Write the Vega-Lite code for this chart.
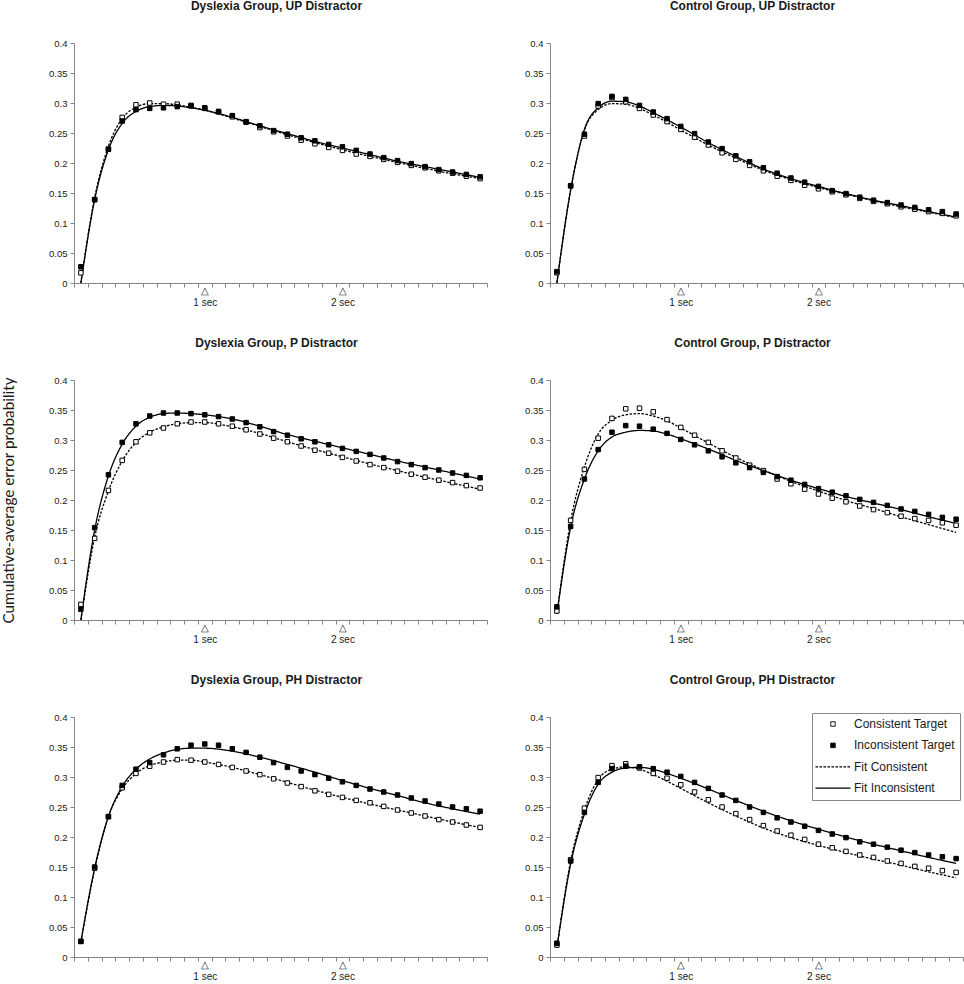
{
  "$schema": "https://vega.github.io/schema/vega-lite/v6.json",
  "padding": {"left": 1, "top": 0, "right": 0, "bottom": 0},
  "config": {
    "font": "Liberation Sans",
    "view": {"stroke": null},
    "axis": {"grid": false, "domainColor": "#868686", "tickColor": "#868686", "tickSize": 4, "labelFont": "Liberation Sans", "labelFontSize": 9.5, "labelColor": "#1a1a1a"},
    "title": {"anchor": "middle", "frame": "group", "fontSize": 12, "fontWeight": "bold", "font": "Liberation Sans", "color": "#1a1a1a", "offset": 25, "dx": -4}
  },
  "datasets": {
    "curves": [
      {"panel":"DUP","series":"C","t":0.1,"p":0.017},{"panel":"DUP","series":"C","t":0.2,"p":0.139},{"panel":"DUP","series":"C","t":0.3,"p":0.223},{"panel":"DUP","series":"C","t":0.4,"p":0.276},{"panel":"DUP","series":"C","t":0.5,"p":0.297},{"panel":"DUP","series":"C","t":0.6,"p":0.300},{"panel":"DUP","series":"C","t":0.7,"p":0.298},{"panel":"DUP","series":"C","t":0.8,"p":0.298},{"panel":"DUP","series":"C","t":0.9,"p":0.295},{"panel":"DUP","series":"C","t":1,"p":0.291},
      {"panel":"DUP","series":"C","t":1.1,"p":0.285},{"panel":"DUP","series":"C","t":1.2,"p":0.277},{"panel":"DUP","series":"C","t":1.3,"p":0.268},{"panel":"DUP","series":"C","t":1.4,"p":0.259},{"panel":"DUP","series":"C","t":1.5,"p":0.252},{"panel":"DUP","series":"C","t":1.6,"p":0.245},{"panel":"DUP","series":"C","t":1.7,"p":0.238},{"panel":"DUP","series":"C","t":1.8,"p":0.232},{"panel":"DUP","series":"C","t":1.9,"p":0.226},{"panel":"DUP","series":"C","t":2,"p":0.221},
      {"panel":"DUP","series":"C","t":2.1,"p":0.215},{"panel":"DUP","series":"C","t":2.2,"p":0.211},{"panel":"DUP","series":"C","t":2.3,"p":0.206},{"panel":"DUP","series":"C","t":2.4,"p":0.201},{"panel":"DUP","series":"C","t":2.5,"p":0.196},{"panel":"DUP","series":"C","t":2.6,"p":0.192},{"panel":"DUP","series":"C","t":2.7,"p":0.187},{"panel":"DUP","series":"C","t":2.8,"p":0.183},{"panel":"DUP","series":"C","t":2.9,"p":0.178},{"panel":"DUP","series":"C","t":3,"p":0.174},
      {"panel":"DUP","series":"I","t":0.1,"p":0.027},{"panel":"DUP","series":"I","t":0.2,"p":0.139},{"panel":"DUP","series":"I","t":0.3,"p":0.223},{"panel":"DUP","series":"I","t":0.4,"p":0.270},{"panel":"DUP","series":"I","t":0.5,"p":0.289},{"panel":"DUP","series":"I","t":0.6,"p":0.291},{"panel":"DUP","series":"I","t":0.7,"p":0.292},{"panel":"DUP","series":"I","t":0.8,"p":0.294},{"panel":"DUP","series":"I","t":0.9,"p":0.296},{"panel":"DUP","series":"I","t":1,"p":0.292},
      {"panel":"DUP","series":"I","t":1.1,"p":0.286},{"panel":"DUP","series":"I","t":1.2,"p":0.279},{"panel":"DUP","series":"I","t":1.3,"p":0.269},{"panel":"DUP","series":"I","t":1.4,"p":0.262},{"panel":"DUP","series":"I","t":1.5,"p":0.254},{"panel":"DUP","series":"I","t":1.6,"p":0.248},{"panel":"DUP","series":"I","t":1.7,"p":0.242},{"panel":"DUP","series":"I","t":1.8,"p":0.237},{"panel":"DUP","series":"I","t":1.9,"p":0.231},{"panel":"DUP","series":"I","t":2,"p":0.227},
      {"panel":"DUP","series":"I","t":2.1,"p":0.221},{"panel":"DUP","series":"I","t":2.2,"p":0.215},{"panel":"DUP","series":"I","t":2.3,"p":0.209},{"panel":"DUP","series":"I","t":2.4,"p":0.204},{"panel":"DUP","series":"I","t":2.5,"p":0.199},{"panel":"DUP","series":"I","t":2.6,"p":0.194},{"panel":"DUP","series":"I","t":2.7,"p":0.189},{"panel":"DUP","series":"I","t":2.8,"p":0.185},{"panel":"DUP","series":"I","t":2.9,"p":0.181},{"panel":"DUP","series":"I","t":3,"p":0.177},
      {"panel":"DUP","series":"FI","t":0.1,"p":0},{"panel":"DUP","series":"FI","t":0.2,"p":0.139},{"panel":"DUP","series":"FI","t":0.3,"p":0.222},{"panel":"DUP","series":"FI","t":0.4,"p":0.266},{"panel":"DUP","series":"FI","t":0.5,"p":0.286},{"panel":"DUP","series":"FI","t":0.6,"p":0.294},{"panel":"DUP","series":"FI","t":0.7,"p":0.296},{"panel":"DUP","series":"FI","t":0.8,"p":0.295},{"panel":"DUP","series":"FI","t":0.9,"p":0.292},{"panel":"DUP","series":"FI","t":1,"p":0.288},
      {"panel":"DUP","series":"FI","t":1.2,"p":0.276},{"panel":"DUP","series":"FI","t":1.4,"p":0.262},{"panel":"DUP","series":"FI","t":1.6,"p":0.249},{"panel":"DUP","series":"FI","t":1.8,"p":0.236},{"panel":"DUP","series":"FI","t":2,"p":0.225},{"panel":"DUP","series":"FI","t":2.2,"p":0.214},{"panel":"DUP","series":"FI","t":2.4,"p":0.203},{"panel":"DUP","series":"FI","t":2.6,"p":0.194},{"panel":"DUP","series":"FI","t":2.8,"p":0.185},{"panel":"DUP","series":"FI","t":3,"p":0.176},
      {"panel":"DUP","series":"FC","t":0.1,"p":0},{"panel":"DUP","series":"FC","t":0.2,"p":0.142},{"panel":"DUP","series":"FC","t":0.3,"p":0.228},{"panel":"DUP","series":"FC","t":0.4,"p":0.274},{"panel":"DUP","series":"FC","t":0.5,"p":0.293},{"panel":"DUP","series":"FC","t":0.6,"p":0.299},{"panel":"DUP","series":"FC","t":0.7,"p":0.299},{"panel":"DUP","series":"FC","t":0.8,"p":0.297},{"panel":"DUP","series":"FC","t":0.9,"p":0.293},{"panel":"DUP","series":"FC","t":1,"p":0.288},
      {"panel":"DUP","series":"FC","t":1.2,"p":0.275},{"panel":"DUP","series":"FC","t":1.4,"p":0.261},{"panel":"DUP","series":"FC","t":1.6,"p":0.247},{"panel":"DUP","series":"FC","t":1.8,"p":0.234},{"panel":"DUP","series":"FC","t":2,"p":0.222},{"panel":"DUP","series":"FC","t":2.2,"p":0.211},{"panel":"DUP","series":"FC","t":2.4,"p":0.201},{"panel":"DUP","series":"FC","t":2.6,"p":0.191},{"panel":"DUP","series":"FC","t":2.8,"p":0.182},{"panel":"DUP","series":"FC","t":3,"p":0.174},

      {"panel":"CUP","series":"C","t":0.1,"p":0.017},{"panel":"CUP","series":"C","t":0.2,"p":0.162},{"panel":"CUP","series":"C","t":0.3,"p":0.245},{"panel":"CUP","series":"C","t":0.4,"p":0.295},{"panel":"CUP","series":"C","t":0.5,"p":0.309},{"panel":"CUP","series":"C","t":0.6,"p":0.302},{"panel":"CUP","series":"C","t":0.7,"p":0.291},{"panel":"CUP","series":"C","t":0.8,"p":0.280},{"panel":"CUP","series":"C","t":0.9,"p":0.269},{"panel":"CUP","series":"C","t":1,"p":0.256},
      {"panel":"CUP","series":"C","t":1.1,"p":0.243},{"panel":"CUP","series":"C","t":1.2,"p":0.230},{"panel":"CUP","series":"C","t":1.3,"p":0.217},{"panel":"CUP","series":"C","t":1.4,"p":0.206},{"panel":"CUP","series":"C","t":1.5,"p":0.196},{"panel":"CUP","series":"C","t":1.6,"p":0.187},{"panel":"CUP","series":"C","t":1.7,"p":0.178},{"panel":"CUP","series":"C","t":1.8,"p":0.171},{"panel":"CUP","series":"C","t":1.9,"p":0.163},{"panel":"CUP","series":"C","t":2,"p":0.157},
      {"panel":"CUP","series":"C","t":2.1,"p":0.152},{"panel":"CUP","series":"C","t":2.2,"p":0.147},{"panel":"CUP","series":"C","t":2.3,"p":0.141},{"panel":"CUP","series":"C","t":2.4,"p":0.136},{"panel":"CUP","series":"C","t":2.5,"p":0.132},{"panel":"CUP","series":"C","t":2.6,"p":0.127},{"panel":"CUP","series":"C","t":2.7,"p":0.123},{"panel":"CUP","series":"C","t":2.8,"p":0.119},{"panel":"CUP","series":"C","t":2.9,"p":0.116},{"panel":"CUP","series":"C","t":3,"p":0.112},
      {"panel":"CUP","series":"I","t":0.1,"p":0.019},{"panel":"CUP","series":"I","t":0.2,"p":0.162},{"panel":"CUP","series":"I","t":0.3,"p":0.248},{"panel":"CUP","series":"I","t":0.4,"p":0.299},{"panel":"CUP","series":"I","t":0.5,"p":0.311},{"panel":"CUP","series":"I","t":0.6,"p":0.306},{"panel":"CUP","series":"I","t":0.7,"p":0.296},{"panel":"CUP","series":"I","t":0.8,"p":0.285},{"panel":"CUP","series":"I","t":0.9,"p":0.274},{"panel":"CUP","series":"I","t":1,"p":0.261},
      {"panel":"CUP","series":"I","t":1.1,"p":0.249},{"panel":"CUP","series":"I","t":1.2,"p":0.235},{"panel":"CUP","series":"I","t":1.3,"p":0.224},{"panel":"CUP","series":"I","t":1.4,"p":0.212},{"panel":"CUP","series":"I","t":1.5,"p":0.202},{"panel":"CUP","series":"I","t":1.6,"p":0.192},{"panel":"CUP","series":"I","t":1.7,"p":0.183},{"panel":"CUP","series":"I","t":1.8,"p":0.175},{"panel":"CUP","series":"I","t":1.9,"p":0.168},{"panel":"CUP","series":"I","t":2,"p":0.161},
      {"panel":"CUP","series":"I","t":2.1,"p":0.154},{"panel":"CUP","series":"I","t":2.2,"p":0.149},{"panel":"CUP","series":"I","t":2.3,"p":0.143},{"panel":"CUP","series":"I","t":2.4,"p":0.138},{"panel":"CUP","series":"I","t":2.5,"p":0.134},{"panel":"CUP","series":"I","t":2.6,"p":0.130},{"panel":"CUP","series":"I","t":2.7,"p":0.126},{"panel":"CUP","series":"I","t":2.8,"p":0.122},{"panel":"CUP","series":"I","t":2.9,"p":0.119},{"panel":"CUP","series":"I","t":3,"p":0.115},
      {"panel":"CUP","series":"FI","t":0.1,"p":0},{"panel":"CUP","series":"FI","t":0.2,"p":0.155},{"panel":"CUP","series":"FI","t":0.3,"p":0.256},{"panel":"CUP","series":"FI","t":0.4,"p":0.292},{"panel":"CUP","series":"FI","t":0.5,"p":0.303},{"panel":"CUP","series":"FI","t":0.6,"p":0.302},{"panel":"CUP","series":"FI","t":0.7,"p":0.295},{"panel":"CUP","series":"FI","t":0.8,"p":0.284},{"panel":"CUP","series":"FI","t":0.9,"p":0.272},{"panel":"CUP","series":"FI","t":1,"p":0.260},
      {"panel":"CUP","series":"FI","t":1.2,"p":0.234},{"panel":"CUP","series":"FI","t":1.4,"p":0.211},{"panel":"CUP","series":"FI","t":1.6,"p":0.190},{"panel":"CUP","series":"FI","t":1.8,"p":0.174},{"panel":"CUP","series":"FI","t":2,"p":0.161},{"panel":"CUP","series":"FI","t":2.2,"p":0.149},{"panel":"CUP","series":"FI","t":2.4,"p":0.138},{"panel":"CUP","series":"FI","t":2.6,"p":0.129},{"panel":"CUP","series":"FI","t":2.8,"p":0.119},{"panel":"CUP","series":"FI","t":3,"p":0.110},
      {"panel":"CUP","series":"FC","t":0.1,"p":0},{"panel":"CUP","series":"FC","t":0.2,"p":0.155},{"panel":"CUP","series":"FC","t":0.3,"p":0.255},{"panel":"CUP","series":"FC","t":0.4,"p":0.289},{"panel":"CUP","series":"FC","t":0.5,"p":0.299},{"panel":"CUP","series":"FC","t":0.6,"p":0.298},{"panel":"CUP","series":"FC","t":0.7,"p":0.291},{"panel":"CUP","series":"FC","t":0.8,"p":0.280},{"panel":"CUP","series":"FC","t":0.9,"p":0.268},{"panel":"CUP","series":"FC","t":1,"p":0.255},
      {"panel":"CUP","series":"FC","t":1.2,"p":0.230},{"panel":"CUP","series":"FC","t":1.4,"p":0.208},{"panel":"CUP","series":"FC","t":1.6,"p":0.188},{"panel":"CUP","series":"FC","t":1.8,"p":0.172},{"panel":"CUP","series":"FC","t":2,"p":0.159},{"panel":"CUP","series":"FC","t":2.2,"p":0.148},{"panel":"CUP","series":"FC","t":2.4,"p":0.137},{"panel":"CUP","series":"FC","t":2.6,"p":0.127},{"panel":"CUP","series":"FC","t":2.8,"p":0.118},{"panel":"CUP","series":"FC","t":3,"p":0.109},

      {"panel":"DP","series":"C","t":0.1,"p":0.026},{"panel":"DP","series":"C","t":0.2,"p":0.136},{"panel":"DP","series":"C","t":0.3,"p":0.216},{"panel":"DP","series":"C","t":0.4,"p":0.266},{"panel":"DP","series":"C","t":0.5,"p":0.297},{"panel":"DP","series":"C","t":0.6,"p":0.312},{"panel":"DP","series":"C","t":0.7,"p":0.320},{"panel":"DP","series":"C","t":0.8,"p":0.327},{"panel":"DP","series":"C","t":0.9,"p":0.330},{"panel":"DP","series":"C","t":1,"p":0.330},
      {"panel":"DP","series":"C","t":1.1,"p":0.327},{"panel":"DP","series":"C","t":1.2,"p":0.323},{"panel":"DP","series":"C","t":1.3,"p":0.317},{"panel":"DP","series":"C","t":1.4,"p":0.310},{"panel":"DP","series":"C","t":1.5,"p":0.303},{"panel":"DP","series":"C","t":1.6,"p":0.297},{"panel":"DP","series":"C","t":1.7,"p":0.290},{"panel":"DP","series":"C","t":1.8,"p":0.283},{"panel":"DP","series":"C","t":1.9,"p":0.278},{"panel":"DP","series":"C","t":2,"p":0.271},
      {"panel":"DP","series":"C","t":2.1,"p":0.265},{"panel":"DP","series":"C","t":2.2,"p":0.259},{"panel":"DP","series":"C","t":2.3,"p":0.254},{"panel":"DP","series":"C","t":2.4,"p":0.248},{"panel":"DP","series":"C","t":2.5,"p":0.243},{"panel":"DP","series":"C","t":2.6,"p":0.238},{"panel":"DP","series":"C","t":2.7,"p":0.233},{"panel":"DP","series":"C","t":2.8,"p":0.229},{"panel":"DP","series":"C","t":2.9,"p":0.224},{"panel":"DP","series":"C","t":3,"p":0.220},
      {"panel":"DP","series":"I","t":0.1,"p":0.018},{"panel":"DP","series":"I","t":0.2,"p":0.154},{"panel":"DP","series":"I","t":0.3,"p":0.242},{"panel":"DP","series":"I","t":0.4,"p":0.296},{"panel":"DP","series":"I","t":0.5,"p":0.327},{"panel":"DP","series":"I","t":0.6,"p":0.340},{"panel":"DP","series":"I","t":0.7,"p":0.345},{"panel":"DP","series":"I","t":0.8,"p":0.345},{"panel":"DP","series":"I","t":0.9,"p":0.344},{"panel":"DP","series":"I","t":1,"p":0.342},
      {"panel":"DP","series":"I","t":1.1,"p":0.339},{"panel":"DP","series":"I","t":1.2,"p":0.335},{"panel":"DP","series":"I","t":1.3,"p":0.329},{"panel":"DP","series":"I","t":1.4,"p":0.322},{"panel":"DP","series":"I","t":1.5,"p":0.314},{"panel":"DP","series":"I","t":1.6,"p":0.308},{"panel":"DP","series":"I","t":1.7,"p":0.302},{"panel":"DP","series":"I","t":1.8,"p":0.297},{"panel":"DP","series":"I","t":1.9,"p":0.292},{"panel":"DP","series":"I","t":2,"p":0.286},
      {"panel":"DP","series":"I","t":2.1,"p":0.281},{"panel":"DP","series":"I","t":2.2,"p":0.276},{"panel":"DP","series":"I","t":2.3,"p":0.270},{"panel":"DP","series":"I","t":2.4,"p":0.264},{"panel":"DP","series":"I","t":2.5,"p":0.259},{"panel":"DP","series":"I","t":2.6,"p":0.254},{"panel":"DP","series":"I","t":2.7,"p":0.250},{"panel":"DP","series":"I","t":2.8,"p":0.245},{"panel":"DP","series":"I","t":2.9,"p":0.241},{"panel":"DP","series":"I","t":3,"p":0.237},
      {"panel":"DP","series":"FI","t":0.1,"p":0},{"panel":"DP","series":"FI","t":0.2,"p":0.150},{"panel":"DP","series":"FI","t":0.3,"p":0.240},{"panel":"DP","series":"FI","t":0.4,"p":0.293},{"panel":"DP","series":"FI","t":0.5,"p":0.323},{"panel":"DP","series":"FI","t":0.6,"p":0.338},{"panel":"DP","series":"FI","t":0.7,"p":0.344},{"panel":"DP","series":"FI","t":0.8,"p":0.345},{"panel":"DP","series":"FI","t":0.9,"p":0.344},{"panel":"DP","series":"FI","t":1,"p":0.342},
      {"panel":"DP","series":"FI","t":1.2,"p":0.335},{"panel":"DP","series":"FI","t":1.4,"p":0.323},{"panel":"DP","series":"FI","t":1.6,"p":0.309},{"panel":"DP","series":"FI","t":1.8,"p":0.298},{"panel":"DP","series":"FI","t":2,"p":0.287},{"panel":"DP","series":"FI","t":2.2,"p":0.276},{"panel":"DP","series":"FI","t":2.4,"p":0.265},{"panel":"DP","series":"FI","t":2.6,"p":0.255},{"panel":"DP","series":"FI","t":2.8,"p":0.245},{"panel":"DP","series":"FI","t":3,"p":0.235},
      {"panel":"DP","series":"FC","t":0.1,"p":0},{"panel":"DP","series":"FC","t":0.2,"p":0.138},{"panel":"DP","series":"FC","t":0.3,"p":0.215},{"panel":"DP","series":"FC","t":0.4,"p":0.265},{"panel":"DP","series":"FC","t":0.5,"p":0.296},{"panel":"DP","series":"FC","t":0.6,"p":0.313},{"panel":"DP","series":"FC","t":0.7,"p":0.322},{"panel":"DP","series":"FC","t":0.8,"p":0.327},{"panel":"DP","series":"FC","t":0.9,"p":0.329},{"panel":"DP","series":"FC","t":1,"p":0.329},
      {"panel":"DP","series":"FC","t":1.2,"p":0.322},{"panel":"DP","series":"FC","t":1.4,"p":0.311},{"panel":"DP","series":"FC","t":1.6,"p":0.297},{"panel":"DP","series":"FC","t":1.8,"p":0.284},{"panel":"DP","series":"FC","t":2,"p":0.272},{"panel":"DP","series":"FC","t":2.2,"p":0.260},{"panel":"DP","series":"FC","t":2.4,"p":0.249},{"panel":"DP","series":"FC","t":2.6,"p":0.238},{"panel":"DP","series":"FC","t":2.8,"p":0.228},{"panel":"DP","series":"FC","t":3,"p":0.218},

      {"panel":"CP","series":"C","t":0.1,"p":0.015},{"panel":"CP","series":"C","t":0.2,"p":0.166},{"panel":"CP","series":"C","t":0.3,"p":0.251},{"panel":"CP","series":"C","t":0.4,"p":0.303},{"panel":"CP","series":"C","t":0.5,"p":0.336},{"panel":"CP","series":"C","t":0.6,"p":0.352},{"panel":"CP","series":"C","t":0.7,"p":0.353},{"panel":"CP","series":"C","t":0.8,"p":0.347},{"panel":"CP","series":"C","t":0.9,"p":0.334},{"panel":"CP","series":"C","t":1,"p":0.321},
      {"panel":"CP","series":"C","t":1.1,"p":0.308},{"panel":"CP","series":"C","t":1.2,"p":0.296},{"panel":"CP","series":"C","t":1.3,"p":0.282},{"panel":"CP","series":"C","t":1.4,"p":0.270},{"panel":"CP","series":"C","t":1.5,"p":0.258},{"panel":"CP","series":"C","t":1.6,"p":0.249},{"panel":"CP","series":"C","t":1.7,"p":0.235},{"panel":"CP","series":"C","t":1.8,"p":0.227},{"panel":"CP","series":"C","t":1.9,"p":0.218},{"panel":"CP","series":"C","t":2,"p":0.210},
      {"panel":"CP","series":"C","t":2.1,"p":0.203},{"panel":"CP","series":"C","t":2.2,"p":0.197},{"panel":"CP","series":"C","t":2.3,"p":0.190},{"panel":"CP","series":"C","t":2.4,"p":0.184},{"panel":"CP","series":"C","t":2.5,"p":0.179},{"panel":"CP","series":"C","t":2.6,"p":0.173},{"panel":"CP","series":"C","t":2.7,"p":0.169},{"panel":"CP","series":"C","t":2.8,"p":0.166},{"panel":"CP","series":"C","t":2.9,"p":0.162},{"panel":"CP","series":"C","t":3,"p":0.158},
      {"panel":"CP","series":"I","t":0.1,"p":0.022},{"panel":"CP","series":"I","t":0.2,"p":0.156},{"panel":"CP","series":"I","t":0.3,"p":0.235},{"panel":"CP","series":"I","t":0.4,"p":0.284},{"panel":"CP","series":"I","t":0.5,"p":0.313},{"panel":"CP","series":"I","t":0.6,"p":0.324},{"panel":"CP","series":"I","t":0.7,"p":0.323},{"panel":"CP","series":"I","t":0.8,"p":0.318},{"panel":"CP","series":"I","t":0.9,"p":0.311},{"panel":"CP","series":"I","t":1,"p":0.301},
      {"panel":"CP","series":"I","t":1.1,"p":0.292},{"panel":"CP","series":"I","t":1.2,"p":0.282},{"panel":"CP","series":"I","t":1.3,"p":0.272},{"panel":"CP","series":"I","t":1.4,"p":0.262},{"panel":"CP","series":"I","t":1.5,"p":0.254},{"panel":"CP","series":"I","t":1.6,"p":0.246},{"panel":"CP","series":"I","t":1.7,"p":0.239},{"panel":"CP","series":"I","t":1.8,"p":0.233},{"panel":"CP","series":"I","t":1.9,"p":0.226},{"panel":"CP","series":"I","t":2,"p":0.219},
      {"panel":"CP","series":"I","t":2.1,"p":0.213},{"panel":"CP","series":"I","t":2.2,"p":0.207},{"panel":"CP","series":"I","t":2.3,"p":0.201},{"panel":"CP","series":"I","t":2.4,"p":0.196},{"panel":"CP","series":"I","t":2.5,"p":0.191},{"panel":"CP","series":"I","t":2.6,"p":0.185},{"panel":"CP","series":"I","t":2.7,"p":0.181},{"panel":"CP","series":"I","t":2.8,"p":0.176},{"panel":"CP","series":"I","t":2.9,"p":0.171},{"panel":"CP","series":"I","t":3,"p":0.168},
      {"panel":"CP","series":"FI","t":0.1,"p":0.01},{"panel":"CP","series":"FI","t":0.2,"p":0.155},{"panel":"CP","series":"FI","t":0.3,"p":0.235},{"panel":"CP","series":"FI","t":0.4,"p":0.282},{"panel":"CP","series":"FI","t":0.5,"p":0.305},{"panel":"CP","series":"FI","t":0.6,"p":0.313},{"panel":"CP","series":"FI","t":0.7,"p":0.316},{"panel":"CP","series":"FI","t":0.8,"p":0.315},{"panel":"CP","series":"FI","t":0.9,"p":0.310},{"panel":"CP","series":"FI","t":1,"p":0.302},
      {"panel":"CP","series":"FI","t":1.2,"p":0.285},{"panel":"CP","series":"FI","t":1.4,"p":0.266},{"panel":"CP","series":"FI","t":1.6,"p":0.249},{"panel":"CP","series":"FI","t":1.8,"p":0.233},{"panel":"CP","series":"FI","t":2,"p":0.219},{"panel":"CP","series":"FI","t":2.2,"p":0.206},{"panel":"CP","series":"FI","t":2.4,"p":0.195},{"panel":"CP","series":"FI","t":2.6,"p":0.184},{"panel":"CP","series":"FI","t":2.8,"p":0.172},{"panel":"CP","series":"FI","t":3,"p":0.161},
      {"panel":"CP","series":"FC","t":0.1,"p":0.01},{"panel":"CP","series":"FC","t":0.2,"p":0.165},{"panel":"CP","series":"FC","t":0.3,"p":0.255},{"panel":"CP","series":"FC","t":0.4,"p":0.310},{"panel":"CP","series":"FC","t":0.5,"p":0.333},{"panel":"CP","series":"FC","t":0.6,"p":0.342},{"panel":"CP","series":"FC","t":0.7,"p":0.344},{"panel":"CP","series":"FC","t":0.8,"p":0.340},{"panel":"CP","series":"FC","t":0.9,"p":0.332},{"panel":"CP","series":"FC","t":1,"p":0.320},
      {"panel":"CP","series":"FC","t":1.2,"p":0.295},{"panel":"CP","series":"FC","t":1.4,"p":0.271},{"panel":"CP","series":"FC","t":1.6,"p":0.250},{"panel":"CP","series":"FC","t":1.8,"p":0.231},{"panel":"CP","series":"FC","t":2,"p":0.215},{"panel":"CP","series":"FC","t":2.2,"p":0.199},{"panel":"CP","series":"FC","t":2.4,"p":0.186},{"panel":"CP","series":"FC","t":2.6,"p":0.172},{"panel":"CP","series":"FC","t":2.8,"p":0.159},{"panel":"CP","series":"FC","t":3,"p":0.146},

      {"panel":"DPH","series":"C","t":0.1,"p":0.026},{"panel":"DPH","series":"C","t":0.2,"p":0.148},{"panel":"DPH","series":"C","t":0.3,"p":0.234},{"panel":"DPH","series":"C","t":0.4,"p":0.282},{"panel":"DPH","series":"C","t":0.5,"p":0.306},{"panel":"DPH","series":"C","t":0.6,"p":0.318},{"panel":"DPH","series":"C","t":0.7,"p":0.325},{"panel":"DPH","series":"C","t":0.8,"p":0.329},{"panel":"DPH","series":"C","t":0.9,"p":0.328},{"panel":"DPH","series":"C","t":1,"p":0.325},
      {"panel":"DPH","series":"C","t":1.1,"p":0.321},{"panel":"DPH","series":"C","t":1.2,"p":0.316},{"panel":"DPH","series":"C","t":1.3,"p":0.310},{"panel":"DPH","series":"C","t":1.4,"p":0.304},{"panel":"DPH","series":"C","t":1.5,"p":0.297},{"panel":"DPH","series":"C","t":1.6,"p":0.290},{"panel":"DPH","series":"C","t":1.7,"p":0.284},{"panel":"DPH","series":"C","t":1.8,"p":0.277},{"panel":"DPH","series":"C","t":1.9,"p":0.271},{"panel":"DPH","series":"C","t":2,"p":0.266},
      {"panel":"DPH","series":"C","t":2.1,"p":0.261},{"panel":"DPH","series":"C","t":2.2,"p":0.257},{"panel":"DPH","series":"C","t":2.3,"p":0.251},{"panel":"DPH","series":"C","t":2.4,"p":0.245},{"panel":"DPH","series":"C","t":2.5,"p":0.240},{"panel":"DPH","series":"C","t":2.6,"p":0.235},{"panel":"DPH","series":"C","t":2.7,"p":0.229},{"panel":"DPH","series":"C","t":2.8,"p":0.225},{"panel":"DPH","series":"C","t":2.9,"p":0.220},{"panel":"DPH","series":"C","t":3,"p":0.216},
      {"panel":"DPH","series":"I","t":0.1,"p":0.026},{"panel":"DPH","series":"I","t":0.2,"p":0.150},{"panel":"DPH","series":"I","t":0.3,"p":0.234},{"panel":"DPH","series":"I","t":0.4,"p":0.286},{"panel":"DPH","series":"I","t":0.5,"p":0.313},{"panel":"DPH","series":"I","t":0.6,"p":0.324},{"panel":"DPH","series":"I","t":0.7,"p":0.337},{"panel":"DPH","series":"I","t":0.8,"p":0.347},{"panel":"DPH","series":"I","t":0.9,"p":0.353},{"panel":"DPH","series":"I","t":1,"p":0.355},
      {"panel":"DPH","series":"I","t":1.1,"p":0.353},{"panel":"DPH","series":"I","t":1.2,"p":0.347},{"panel":"DPH","series":"I","t":1.3,"p":0.341},{"panel":"DPH","series":"I","t":1.4,"p":0.333},{"panel":"DPH","series":"I","t":1.5,"p":0.324},{"panel":"DPH","series":"I","t":1.6,"p":0.316},{"panel":"DPH","series":"I","t":1.7,"p":0.310},{"panel":"DPH","series":"I","t":1.8,"p":0.304},{"panel":"DPH","series":"I","t":1.9,"p":0.298},{"panel":"DPH","series":"I","t":2,"p":0.292},
      {"panel":"DPH","series":"I","t":2.1,"p":0.286},{"panel":"DPH","series":"I","t":2.2,"p":0.280},{"panel":"DPH","series":"I","t":2.3,"p":0.275},{"panel":"DPH","series":"I","t":2.4,"p":0.270},{"panel":"DPH","series":"I","t":2.5,"p":0.265},{"panel":"DPH","series":"I","t":2.6,"p":0.260},{"panel":"DPH","series":"I","t":2.7,"p":0.255},{"panel":"DPH","series":"I","t":2.8,"p":0.250},{"panel":"DPH","series":"I","t":2.9,"p":0.247},{"panel":"DPH","series":"I","t":3,"p":0.243},
      {"panel":"DPH","series":"FI","t":0.1,"p":0.025},{"panel":"DPH","series":"FI","t":0.2,"p":0.148},{"panel":"DPH","series":"FI","t":0.3,"p":0.234},{"panel":"DPH","series":"FI","t":0.4,"p":0.284},{"panel":"DPH","series":"FI","t":0.5,"p":0.313},{"panel":"DPH","series":"FI","t":0.6,"p":0.330},{"panel":"DPH","series":"FI","t":0.7,"p":0.340},{"panel":"DPH","series":"FI","t":0.8,"p":0.346},{"panel":"DPH","series":"FI","t":0.9,"p":0.348},{"panel":"DPH","series":"FI","t":1,"p":0.348},
      {"panel":"DPH","series":"FI","t":1.2,"p":0.343},{"panel":"DPH","series":"FI","t":1.4,"p":0.333},{"panel":"DPH","series":"FI","t":1.6,"p":0.321},{"panel":"DPH","series":"FI","t":1.8,"p":0.308},{"panel":"DPH","series":"FI","t":2,"p":0.294},{"panel":"DPH","series":"FI","t":2.2,"p":0.281},{"panel":"DPH","series":"FI","t":2.4,"p":0.269},{"panel":"DPH","series":"FI","t":2.6,"p":0.257},{"panel":"DPH","series":"FI","t":2.8,"p":0.247},{"panel":"DPH","series":"FI","t":3,"p":0.238},
      {"panel":"DPH","series":"FC","t":0.1,"p":0.025},{"panel":"DPH","series":"FC","t":0.2,"p":0.146},{"panel":"DPH","series":"FC","t":0.3,"p":0.234},{"panel":"DPH","series":"FC","t":0.4,"p":0.280},{"panel":"DPH","series":"FC","t":0.5,"p":0.306},{"panel":"DPH","series":"FC","t":0.6,"p":0.319},{"panel":"DPH","series":"FC","t":0.7,"p":0.325},{"panel":"DPH","series":"FC","t":0.8,"p":0.328},{"panel":"DPH","series":"FC","t":0.9,"p":0.328},{"panel":"DPH","series":"FC","t":1,"p":0.325},
      {"panel":"DPH","series":"FC","t":1.2,"p":0.316},{"panel":"DPH","series":"FC","t":1.4,"p":0.304},{"panel":"DPH","series":"FC","t":1.6,"p":0.291},{"panel":"DPH","series":"FC","t":1.8,"p":0.278},{"panel":"DPH","series":"FC","t":2,"p":0.266},{"panel":"DPH","series":"FC","t":2.2,"p":0.255},{"panel":"DPH","series":"FC","t":2.4,"p":0.245},{"panel":"DPH","series":"FC","t":2.6,"p":0.235},{"panel":"DPH","series":"FC","t":2.8,"p":0.225},{"panel":"DPH","series":"FC","t":3,"p":0.216},

      {"panel":"CPH","series":"C","t":0.1,"p":0.020},{"panel":"CPH","series":"C","t":0.2,"p":0.162},{"panel":"CPH","series":"C","t":0.3,"p":0.248},{"panel":"CPH","series":"C","t":0.4,"p":0.299},{"panel":"CPH","series":"C","t":0.5,"p":0.319},{"panel":"CPH","series":"C","t":0.6,"p":0.322},{"panel":"CPH","series":"C","t":0.7,"p":0.315},{"panel":"CPH","series":"C","t":0.8,"p":0.306},{"panel":"CPH","series":"C","t":0.9,"p":0.298},{"panel":"CPH","series":"C","t":1,"p":0.287},
      {"panel":"CPH","series":"C","t":1.1,"p":0.275},{"panel":"CPH","series":"C","t":1.2,"p":0.262},{"panel":"CPH","series":"C","t":1.3,"p":0.250},{"panel":"CPH","series":"C","t":1.4,"p":0.239},{"panel":"CPH","series":"C","t":1.5,"p":0.229},{"panel":"CPH","series":"C","t":1.6,"p":0.219},{"panel":"CPH","series":"C","t":1.7,"p":0.210},{"panel":"CPH","series":"C","t":1.8,"p":0.203},{"panel":"CPH","series":"C","t":1.9,"p":0.196},{"panel":"CPH","series":"C","t":2,"p":0.188},
      {"panel":"CPH","series":"C","t":2.1,"p":0.182},{"panel":"CPH","series":"C","t":2.2,"p":0.176},{"panel":"CPH","series":"C","t":2.3,"p":0.170},{"panel":"CPH","series":"C","t":2.4,"p":0.166},{"panel":"CPH","series":"C","t":2.5,"p":0.160},{"panel":"CPH","series":"C","t":2.6,"p":0.156},{"panel":"CPH","series":"C","t":2.7,"p":0.151},{"panel":"CPH","series":"C","t":2.8,"p":0.148},{"panel":"CPH","series":"C","t":2.9,"p":0.144},{"panel":"CPH","series":"C","t":3,"p":0.141},
      {"panel":"CPH","series":"I","t":0.1,"p":0.023},{"panel":"CPH","series":"I","t":0.2,"p":0.160},{"panel":"CPH","series":"I","t":0.3,"p":0.241},{"panel":"CPH","series":"I","t":0.4,"p":0.291},{"panel":"CPH","series":"I","t":0.5,"p":0.314},{"panel":"CPH","series":"I","t":0.6,"p":0.318},{"panel":"CPH","series":"I","t":0.7,"p":0.317},{"panel":"CPH","series":"I","t":0.8,"p":0.314},{"panel":"CPH","series":"I","t":0.9,"p":0.308},{"panel":"CPH","series":"I","t":1,"p":0.301},
      {"panel":"CPH","series":"I","t":1.1,"p":0.291},{"panel":"CPH","series":"I","t":1.2,"p":0.281},{"panel":"CPH","series":"I","t":1.3,"p":0.270},{"panel":"CPH","series":"I","t":1.4,"p":0.261},{"panel":"CPH","series":"I","t":1.5,"p":0.250},{"panel":"CPH","series":"I","t":1.6,"p":0.241},{"panel":"CPH","series":"I","t":1.7,"p":0.232},{"panel":"CPH","series":"I","t":1.8,"p":0.225},{"panel":"CPH","series":"I","t":1.9,"p":0.218},{"panel":"CPH","series":"I","t":2,"p":0.211},
      {"panel":"CPH","series":"I","t":2.1,"p":0.205},{"panel":"CPH","series":"I","t":2.2,"p":0.199},{"panel":"CPH","series":"I","t":2.3,"p":0.192},{"panel":"CPH","series":"I","t":2.4,"p":0.188},{"panel":"CPH","series":"I","t":2.5,"p":0.183},{"panel":"CPH","series":"I","t":2.6,"p":0.178},{"panel":"CPH","series":"I","t":2.7,"p":0.174},{"panel":"CPH","series":"I","t":2.8,"p":0.170},{"panel":"CPH","series":"I","t":2.9,"p":0.167},{"panel":"CPH","series":"I","t":3,"p":0.164},
      {"panel":"CPH","series":"FI","t":0.1,"p":0.015},{"panel":"CPH","series":"FI","t":0.2,"p":0.155},{"panel":"CPH","series":"FI","t":0.3,"p":0.238},{"panel":"CPH","series":"FI","t":0.4,"p":0.288},{"panel":"CPH","series":"FI","t":0.5,"p":0.308},{"panel":"CPH","series":"FI","t":0.6,"p":0.315},{"panel":"CPH","series":"FI","t":0.7,"p":0.316},{"panel":"CPH","series":"FI","t":0.8,"p":0.313},{"panel":"CPH","series":"FI","t":0.9,"p":0.306},{"panel":"CPH","series":"FI","t":1,"p":0.298},
      {"panel":"CPH","series":"FI","t":1.2,"p":0.280},{"panel":"CPH","series":"FI","t":1.4,"p":0.261},{"panel":"CPH","series":"FI","t":1.6,"p":0.243},{"panel":"CPH","series":"FI","t":1.8,"p":0.227},{"panel":"CPH","series":"FI","t":2,"p":0.213},{"panel":"CPH","series":"FI","t":2.2,"p":0.200},{"panel":"CPH","series":"FI","t":2.4,"p":0.188},{"panel":"CPH","series":"FI","t":2.6,"p":0.177},{"panel":"CPH","series":"FI","t":2.8,"p":0.166},{"panel":"CPH","series":"FI","t":3,"p":0.156},
      {"panel":"CPH","series":"FC","t":0.1,"p":0.015},{"panel":"CPH","series":"FC","t":0.2,"p":0.160},{"panel":"CPH","series":"FC","t":0.3,"p":0.245},{"panel":"CPH","series":"FC","t":0.4,"p":0.296},{"panel":"CPH","series":"FC","t":0.5,"p":0.313},{"panel":"CPH","series":"FC","t":0.6,"p":0.317},{"panel":"CPH","series":"FC","t":0.7,"p":0.313},{"panel":"CPH","series":"FC","t":0.8,"p":0.304},{"panel":"CPH","series":"FC","t":0.9,"p":0.293},{"panel":"CPH","series":"FC","t":1,"p":0.281},
      {"panel":"CPH","series":"FC","t":1.2,"p":0.257},{"panel":"CPH","series":"FC","t":1.4,"p":0.235},{"panel":"CPH","series":"FC","t":1.6,"p":0.215},{"panel":"CPH","series":"FC","t":1.8,"p":0.199},{"panel":"CPH","series":"FC","t":2,"p":0.186},{"panel":"CPH","series":"FC","t":2.2,"p":0.174},{"panel":"CPH","series":"FC","t":2.4,"p":0.163},{"panel":"CPH","series":"FC","t":2.6,"p":0.153},{"panel":"CPH","series":"FC","t":2.8,"p":0.142},{"panel":"CPH","series":"FC","t":3,"p":0.132}
    ]
  },
  "columns": 2,
  "spacing": {"row": 29, "column": 36},
  "resolve": {"scale": {"x": "independent", "y": "independent", "fill": "independent", "strokeDash": "independent"}},
  "concat": [
    {
      "title": "Dyslexia Group, UP Distractor",
      "width": 413, "height": 240,
      "data": {"name": "curves"},
      "transform": [{"filter": "datum.panel == 'DUP'"}],
      "encoding": {
        "x": {"field": "t", "type": "quantitative", "scale": {"domain": [0.05, 3.05], "nice": false, "zero": false},
              "axis": {"title": null, "values": [0.05,0.15,0.25,0.35,0.45,0.55,0.65,0.75,0.85,0.95,1,1.05,1.15,1.25,1.35,1.45,1.55,1.65,1.75,1.85,1.95,2,2.05,2.15,2.25,2.35,2.45,2.55,2.65,2.75,2.85,2.95,3.05],
                       "labelExpr": "datum.value == 1 ? ['△', '1 sec'] : datum.value == 2 ? ['△', '2 sec'] : ''",
                       "tickOpacity": {"condition": {"test": "datum.value == 1 || datum.value == 2", "value": 0}, "value": 1},
                       "labelAngle": 0, "labelPadding": -2, "labelLineHeight": 12.5, "labelFontSize": 10, "labelOverlap": false, "labelFlush": false, "labelBound": false}},
        "y": {"field": "p", "type": "quantitative", "scale": {"domain": [0, 0.4], "nice": false},
              "axis": {"values": [0,0.05,0.1,0.15,0.2,0.25,0.3,0.35,0.4], "format": ".2~f", "labelPadding": 3,
                       "title": "Cumulative-average error probability", "titleFont": "Lato", "titleFontSize": 15.3, "titleFontWeight": "normal", "titleColor": "#1a1a1a", "titlePadding": 31.7, "titleOpacity": 0}}
      },
      "layer": [
        {"transform": [{"filter": "datum.series == 'FC' || datum.series == 'FI'"}],
         "mark": {"type": "line", "color": "black", "strokeWidth": 1.3, "interpolate": "monotone"},
         "encoding": {"strokeDash": {"field": "series", "type": "nominal", "scale": {"domain": ["C","I","FC","FI"], "range": [[1,0],[1,0],[2.5,1.5],[1,0]]}, "legend": null}}},
        {"transform": [{"filter": "datum.series == 'C' || datum.series == 'I'"}],
         "mark": {"type": "point", "shape": "square", "size": 20, "filled": true, "stroke": "black", "strokeWidth": 1, "opacity": 1},
         "encoding": {"fill": {"field": "series", "type": "nominal", "scale": {"domain": ["C","I"], "range": ["white","black"]}, "legend": null}}}
      ]
    },
    {
      "title": "Control Group, UP Distractor",
      "width": 413, "height": 240,
      "data": {"name": "curves"},
      "transform": [{"filter": "datum.panel == 'CUP'"}],
      "encoding": {
        "x": {"field": "t", "type": "quantitative", "scale": {"domain": [0.05, 3.05], "nice": false, "zero": false},
              "axis": {"title": null, "values": [0.05,0.15,0.25,0.35,0.45,0.55,0.65,0.75,0.85,0.95,1,1.05,1.15,1.25,1.35,1.45,1.55,1.65,1.75,1.85,1.95,2,2.05,2.15,2.25,2.35,2.45,2.55,2.65,2.75,2.85,2.95,3.05],
                       "labelExpr": "datum.value == 1 ? ['△', '1 sec'] : datum.value == 2 ? ['△', '2 sec'] : ''",
                       "tickOpacity": {"condition": {"test": "datum.value == 1 || datum.value == 2", "value": 0}, "value": 1},
                       "labelAngle": 0, "labelPadding": -2, "labelLineHeight": 12.5, "labelFontSize": 10, "labelOverlap": false, "labelFlush": false, "labelBound": false}},
        "y": {"field": "p", "type": "quantitative", "scale": {"domain": [0, 0.4], "nice": false},
              "axis": {"values": [0,0.05,0.1,0.15,0.2,0.25,0.3,0.35,0.4], "format": ".2~f", "labelPadding": 3, "title": null}}
      },
      "layer": [
        {"transform": [{"filter": "datum.series == 'FC' || datum.series == 'FI'"}],
         "mark": {"type": "line", "color": "black", "strokeWidth": 1.3, "interpolate": "monotone"},
         "encoding": {"strokeDash": {"field": "series", "type": "nominal", "scale": {"domain": ["C","I","FC","FI"], "range": [[1,0],[1,0],[2.5,1.5],[1,0]]}, "legend": null}}},
        {"transform": [{"filter": "datum.series == 'C' || datum.series == 'I'"}],
         "mark": {"type": "point", "shape": "square", "size": 20, "filled": true, "stroke": "black", "strokeWidth": 1, "opacity": 1},
         "encoding": {"fill": {"field": "series", "type": "nominal", "scale": {"domain": ["C","I"], "range": ["white","black"]}, "legend": null}}}
      ]
    },
    {
      "title": "Dyslexia Group, P Distractor",
      "width": 413, "height": 240,
      "data": {"name": "curves"},
      "transform": [{"filter": "datum.panel == 'DP'"}],
      "encoding": {
        "x": {"field": "t", "type": "quantitative", "scale": {"domain": [0.05, 3.05], "nice": false, "zero": false},
              "axis": {"title": null, "values": [0.05,0.15,0.25,0.35,0.45,0.55,0.65,0.75,0.85,0.95,1,1.05,1.15,1.25,1.35,1.45,1.55,1.65,1.75,1.85,1.95,2,2.05,2.15,2.25,2.35,2.45,2.55,2.65,2.75,2.85,2.95,3.05],
                       "labelExpr": "datum.value == 1 ? ['△', '1 sec'] : datum.value == 2 ? ['△', '2 sec'] : ''",
                       "tickOpacity": {"condition": {"test": "datum.value == 1 || datum.value == 2", "value": 0}, "value": 1},
                       "labelAngle": 0, "labelPadding": -2, "labelLineHeight": 12.5, "labelFontSize": 10, "labelOverlap": false, "labelFlush": false, "labelBound": false}},
        "y": {"field": "p", "type": "quantitative", "scale": {"domain": [0, 0.4], "nice": false},
              "axis": {"values": [0,0.05,0.1,0.15,0.2,0.25,0.3,0.35,0.4], "format": ".2~f", "labelPadding": 3,
                       "title": "Cumulative-average error probability", "titleFont": "Lato", "titleFontSize": 15.3, "titleFontWeight": "normal", "titleColor": "#1a1a1a", "titlePadding": 31.7}}
      },
      "layer": [
        {"transform": [{"filter": "datum.series == 'FC' || datum.series == 'FI'"}],
         "mark": {"type": "line", "color": "black", "strokeWidth": 1.3, "interpolate": "monotone"},
         "encoding": {"strokeDash": {"field": "series", "type": "nominal", "scale": {"domain": ["C","I","FC","FI"], "range": [[1,0],[1,0],[2.5,1.5],[1,0]]}, "legend": null}}},
        {"transform": [{"filter": "datum.series == 'C' || datum.series == 'I'"}],
         "mark": {"type": "point", "shape": "square", "size": 20, "filled": true, "stroke": "black", "strokeWidth": 1, "opacity": 1},
         "encoding": {"fill": {"field": "series", "type": "nominal", "scale": {"domain": ["C","I"], "range": ["white","black"]}, "legend": null}}}
      ]
    },
    {
      "title": "Control Group, P Distractor",
      "width": 413, "height": 240,
      "data": {"name": "curves"},
      "transform": [{"filter": "datum.panel == 'CP'"}],
      "encoding": {
        "x": {"field": "t", "type": "quantitative", "scale": {"domain": [0.05, 3.05], "nice": false, "zero": false},
              "axis": {"title": null, "values": [0.05,0.15,0.25,0.35,0.45,0.55,0.65,0.75,0.85,0.95,1,1.05,1.15,1.25,1.35,1.45,1.55,1.65,1.75,1.85,1.95,2,2.05,2.15,2.25,2.35,2.45,2.55,2.65,2.75,2.85,2.95,3.05],
                       "labelExpr": "datum.value == 1 ? ['△', '1 sec'] : datum.value == 2 ? ['△', '2 sec'] : ''",
                       "tickOpacity": {"condition": {"test": "datum.value == 1 || datum.value == 2", "value": 0}, "value": 1},
                       "labelAngle": 0, "labelPadding": -2, "labelLineHeight": 12.5, "labelFontSize": 10, "labelOverlap": false, "labelFlush": false, "labelBound": false}},
        "y": {"field": "p", "type": "quantitative", "scale": {"domain": [0, 0.4], "nice": false},
              "axis": {"values": [0,0.05,0.1,0.15,0.2,0.25,0.3,0.35,0.4], "format": ".2~f", "labelPadding": 3, "title": null}}
      },
      "layer": [
        {"transform": [{"filter": "datum.series == 'FC' || datum.series == 'FI'"}],
         "mark": {"type": "line", "color": "black", "strokeWidth": 1.3, "interpolate": "monotone"},
         "encoding": {"strokeDash": {"field": "series", "type": "nominal", "scale": {"domain": ["C","I","FC","FI"], "range": [[1,0],[1,0],[2.5,1.5],[1,0]]}, "legend": null}}},
        {"transform": [{"filter": "datum.series == 'C' || datum.series == 'I'"}],
         "mark": {"type": "point", "shape": "square", "size": 20, "filled": true, "stroke": "black", "strokeWidth": 1, "opacity": 1},
         "encoding": {"fill": {"field": "series", "type": "nominal", "scale": {"domain": ["C","I"], "range": ["white","black"]}, "legend": null}}}
      ]
    },
    {
      "title": "Dyslexia Group, PH Distractor",
      "width": 413, "height": 240,
      "data": {"name": "curves"},
      "transform": [{"filter": "datum.panel == 'DPH'"}],
      "encoding": {
        "x": {"field": "t", "type": "quantitative", "scale": {"domain": [0.05, 3.05], "nice": false, "zero": false},
              "axis": {"title": null, "values": [0.05,0.15,0.25,0.35,0.45,0.55,0.65,0.75,0.85,0.95,1,1.05,1.15,1.25,1.35,1.45,1.55,1.65,1.75,1.85,1.95,2,2.05,2.15,2.25,2.35,2.45,2.55,2.65,2.75,2.85,2.95,3.05],
                       "labelExpr": "datum.value == 1 ? ['△', '1 sec'] : datum.value == 2 ? ['△', '2 sec'] : ''",
                       "tickOpacity": {"condition": {"test": "datum.value == 1 || datum.value == 2", "value": 0}, "value": 1},
                       "labelAngle": 0, "labelPadding": -2, "labelLineHeight": 12.5, "labelFontSize": 10, "labelOverlap": false, "labelFlush": false, "labelBound": false}},
        "y": {"field": "p", "type": "quantitative", "scale": {"domain": [0, 0.4], "nice": false},
              "axis": {"values": [0,0.05,0.1,0.15,0.2,0.25,0.3,0.35,0.4], "format": ".2~f", "labelPadding": 3,
                       "title": "Cumulative-average error probability", "titleFont": "Lato", "titleFontSize": 15.3, "titleFontWeight": "normal", "titleColor": "#1a1a1a", "titlePadding": 31.7, "titleOpacity": 0}}
      },
      "layer": [
        {"transform": [{"filter": "datum.series == 'FC' || datum.series == 'FI'"}],
         "mark": {"type": "line", "color": "black", "strokeWidth": 1.3, "interpolate": "monotone"},
         "encoding": {"strokeDash": {"field": "series", "type": "nominal", "scale": {"domain": ["C","I","FC","FI"], "range": [[1,0],[1,0],[2.5,1.5],[1,0]]}, "legend": null}}},
        {"transform": [{"filter": "datum.series == 'C' || datum.series == 'I'"}],
         "mark": {"type": "point", "shape": "square", "size": 20, "filled": true, "stroke": "black", "strokeWidth": 1, "opacity": 1},
         "encoding": {"fill": {"field": "series", "type": "nominal", "scale": {"domain": ["C","I"], "range": ["white","black"]}, "legend": null}}}
      ]
    },
    {
      "title": "Control Group, PH Distractor",
      "width": 413, "height": 240,
      "data": {"name": "curves"},
      "transform": [{"filter": "datum.panel == 'CPH'"}],
      "encoding": {
        "x": {"field": "t", "type": "quantitative", "scale": {"domain": [0.05, 3.05], "nice": false, "zero": false},
              "axis": {"title": null, "values": [0.05,0.15,0.25,0.35,0.45,0.55,0.65,0.75,0.85,0.95,1,1.05,1.15,1.25,1.35,1.45,1.55,1.65,1.75,1.85,1.95,2,2.05,2.15,2.25,2.35,2.45,2.55,2.65,2.75,2.85,2.95,3.05],
                       "labelExpr": "datum.value == 1 ? ['△', '1 sec'] : datum.value == 2 ? ['△', '2 sec'] : ''",
                       "tickOpacity": {"condition": {"test": "datum.value == 1 || datum.value == 2", "value": 0}, "value": 1},
                       "labelAngle": 0, "labelPadding": -2, "labelLineHeight": 12.5, "labelFontSize": 10, "labelOverlap": false, "labelFlush": false, "labelBound": false}},
        "y": {"field": "p", "type": "quantitative", "scale": {"domain": [0, 0.4], "nice": false},
              "axis": {"values": [0,0.05,0.1,0.15,0.2,0.25,0.3,0.35,0.4], "format": ".2~f", "labelPadding": 3, "title": null}}
      },
      "layer": [
        {"transform": [{"filter": "datum.series == 'FC' || datum.series == 'FI'"}],
         "mark": {"type": "line", "color": "black", "strokeWidth": 1.3, "interpolate": "monotone"},
         "encoding": {"strokeDash": {"field": "series", "type": "nominal", "scale": {"domain": ["C","I","FC","FI"], "range": [[1,0],[1,0],[2.5,1.5],[1,0]]},
                      "legend": {"orient": "none", "legendX": 262, "legendY": -4, "title": null,
                                 "strokeColor": "#868686", "fillColor": "white", "padding": 5,
                                 "symbolSize": 100, "symbolOffset": 10, "symbolStrokeColor": "black", "symbolStrokeWidth": 1.2,
                                 "labelFont": "Liberation Sans", "labelFontSize": 12, "labelColor": "#1a1a1a", "labelOffset": 15, "rowPadding": 9.4,
                                 "labelExpr": "datum.value == 'C' ? 'Consistent Target' : datum.value == 'I' ? 'Inconsistent Target' : datum.value == 'FC' ? 'Fit Consistent' : 'Fit Inconsistent'",
                                 "encode": {"symbols": {"update": {
                                   "shape": {"signal": "datum.index < 2 ? 'square' : 'stroke'"},
                                   "size": {"signal": "datum.index < 2 ? 20 : 1225"},
                                   "fill": {"signal": "datum.index == 0 ? 'white' : datum.index == 1 ? 'black' : 'transparent'"},
                                   "stroke": {"value": "black"},
                                   "strokeWidth": {"signal": "datum.index < 2 ? 1 : 1.2"}
                                 }}}}}}},
        {"transform": [{"filter": "datum.series == 'C' || datum.series == 'I'"}],
         "mark": {"type": "point", "shape": "square", "size": 20, "filled": true, "stroke": "black", "strokeWidth": 1, "opacity": 1},
         "encoding": {"fill": {"field": "series", "type": "nominal", "scale": {"domain": ["C","I"], "range": ["white","black"]}, "legend": null}}}
      ]
    }
  ]
}
